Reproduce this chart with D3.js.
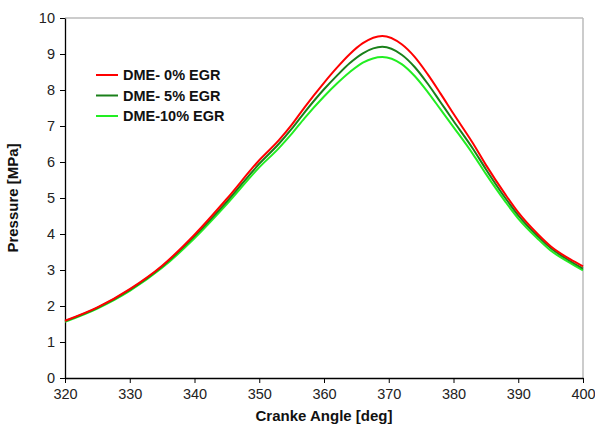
<!DOCTYPE html>
<html><head><meta charset="utf-8">
<script src="https://cdn.jsdelivr.net/npm/d3@7"></script>
<style>body{margin:0;background:#fff;}svg{display:block;font-family:"Liberation Sans",Arial,sans-serif;}</style>
</head><body><svg id="c" width="595" height="432"></svg>
<script>
const angles = [320,325,330,335,340,345,350,353,355,357,360,362,364,366,369,372,374,376,378,380,383,385,388,390,393,395,398,400];
const egr0  = [1.59,1.96,2.47,3.12,3.98,4.98,6.05,6.60,7.03,7.52,8.20,8.62,9.00,9.30,9.50,9.27,8.92,8.44,7.90,7.34,6.52,5.92,5.10,4.60,4.00,3.66,3.30,3.10];
const egr5  = [1.58,1.95,2.45,3.10,3.94,4.90,5.95,6.50,6.92,7.38,8.02,8.40,8.75,9.02,9.20,8.98,8.64,8.18,7.66,7.14,6.37,5.80,5.00,4.52,3.94,3.61,3.25,3.04];
const egr10 = [1.56,1.93,2.42,3.06,3.88,4.83,5.85,6.38,6.78,7.22,7.82,8.18,8.50,8.76,8.92,8.72,8.39,7.95,7.46,6.97,6.22,5.67,4.90,4.43,3.87,3.54,3.20,2.99];
const seriesNames = ["DME- 0% EGR","DME- 5% EGR","DME-10% EGR"];
const seriesColors = ["#ff0000","#1a801a","#22ee22"];
const xTicks = [320,330,340,350,360,370,380,390,400];
const yTicks = [0,1,2,3,4,5,6,7,8,9,10];

const svg = d3.select("#c");
const L=65,R=583,T=18,B=378;
const x = d3.scaleLinear().domain([320,400]).range([L,R]);
const y = d3.scaleLinear().domain([0,10]).range([B,T]);

svg.append("line").attr("x1",L).attr("x2",R).attr("y1",T).attr("y2",T).attr("stroke","#bbb").attr("stroke-width",1.5);
svg.append("line").attr("x1",R).attr("x2",R).attr("y1",T).attr("y2",B).attr("stroke","#bbb").attr("stroke-width",1.5);

const xa = svg.append("g").attr("transform",`translate(0,${B})`)
  .call(d3.axisBottom(x).tickValues(xTicks).tickSize(5).tickPadding(6).tickSizeOuter(0));
const ya = svg.append("g").attr("transform",`translate(${L},0)`)
  .call(d3.axisLeft(y).tickValues(yTicks).tickSize(5).tickPadding(5).tickSizeOuter(0));
[xa,ya].forEach(g=>{
  g.select(".domain").attr("stroke","#000").attr("stroke-width",1.3);
  g.selectAll(".tick line").attr("stroke","#000");
  g.selectAll(".tick text").attr("fill","#222").style("font-size","14.5px").style("font-family","'Liberation Sans',Arial,sans-serif");
});

const data = [egr0,egr5,egr10];
const line = d3.line().x((d,i)=>x(angles[i])).y(d=>y(d)).curve(d3.curveMonotoneX);
data.slice().reverse().forEach((s,k)=>{
  const i = data.length-1-k;
  svg.append("path").datum(s).attr("d",line).attr("fill","none")
    .attr("stroke",seriesColors[i]).attr("stroke-width",2);
});

seriesNames.forEach((n,i)=>{
  const yy = 75 + i*20.5;
  svg.append("line").attr("x1",96).attr("x2",118).attr("y1",yy).attr("y2",yy)
    .attr("stroke",seriesColors[i]).attr("stroke-width",2);
  svg.append("text").attr("x",123).attr("y",yy+5).text(n)
    .style("font-size","14.5px").style("font-weight","bold").attr("fill","#111");
});

svg.append("text").attr("x",(L+R)/2).attr("y",421).attr("text-anchor","middle")
  .style("font-size","15px").style("font-weight","bold").attr("fill","#111").text("Cranke Angle [deg]");
svg.append("text").attr("transform","translate(18,"+((T+B)/2)+") rotate(-90)").attr("text-anchor","middle")
  .style("font-size","15px").style("font-weight","bold").attr("fill","#111").text("Pressure [MPa]");
</script></body></html>
